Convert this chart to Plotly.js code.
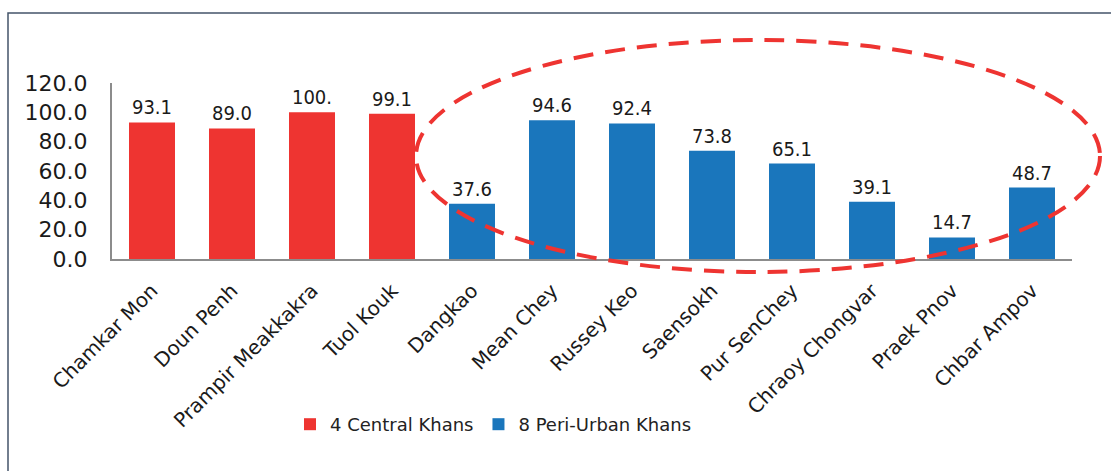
<!DOCTYPE html>
<html>
<head>
<meta charset="utf-8">
<script src="https://cdn.plot.ly/plotly-3.0.1.min.js"></script>
<style>
  html, body { margin: 0; padding: 0; background: #ffffff; }
  #chart { width: 1111px; height: 471px; }
</style>
</head>
<body>
<div id="chart"></div>
<script>
// Khan names and values
const centralKhans = ["Chamkar Mon", "Doun Penh", "Prampir Meakkakra", "Tuol Kouk"];
const centralValues = [93.1, 89.0, 100.0, 99.1];

const periUrbanKhans = ["Dangkao", "Mean Chey", "Russey Keo", "Saensokh", "Pur SenChey",
  "Chraoy Chongvar", "Praek Pnov", "Chbar Ampov"];
const periUrbanValues = [37.6, 94.6, 92.4, 73.8, 65.1, 39.1, 14.7, 48.7];

const yTicks = [0, 20, 40, 60, 80, 100, 120];

// the source chart cuts its data labels at four characters ("100.")
function shortLabel(v) {
  return v.toFixed(1).slice(0, 4);
}

// pixel frame of the plot area, used to place the ring and border
const W = 1111, H = 471;
const margin = { l: 112, r: 39, t: 83, b: 212 };
const plotW = W - margin.l - margin.r;
const plotH = H - margin.t - margin.b;
const px = (x) => (x - margin.l) / plotW;
const py = (y) => (H - margin.b - y) / plotH;

const labelFont = {
  family: "DejaVu Sans Condensed, Liberation Sans Narrow, Liberation Sans, sans-serif",
  size: 20,
  color: "#1a1a1a",
};

const trace1 = {
  x: centralKhans,
  y: centralValues,
  name: "4 Central Khans",
  type: "bar",
  text: centralValues.map(shortLabel),
  textposition: "outside",
  textfont: labelFont,
  constraintext: "none",
  cliponaxis: false,
  marker: { color: "#ee3431" },
  hoverinfo: "x+y",
};

const trace2 = {
  x: periUrbanKhans,
  y: periUrbanValues,
  name: "8 Peri-Urban Khans",
  type: "bar",
  text: periUrbanValues.map(shortLabel),
  textposition: "outside",
  textfont: labelFont,
  constraintext: "none",
  cliponaxis: false,
  marker: { color: "#1a76bc" },
  hoverinfo: "x+y",
};

const layout = {
  width: W,
  height: H,
  margin: margin,
  paper_bgcolor: "#ffffff",
  plot_bgcolor: "#ffffff",
  barmode: "overlay",
  bargap: 0.425,
  showlegend: true,
  legend: {
    orientation: "h",
    x: px(290),
    y: py(406),
    xanchor: "left",
    yanchor: "top",
    font: { family: "DejaVu Sans, sans-serif", size: 18, color: "#222222" },
    itemclick: false,
  },
  xaxis: {
    type: "category",
    categoryorder: "array",
    categoryarray: centralKhans.concat(periUrbanKhans),
    tickangle: -45,
    tickfont: { family: "DejaVu Sans, sans-serif", size: 20, color: "#1a1a1a" },
    ticklabelstandoff: 10,
    showline: true,
    linecolor: "#8c8c8c",
    linewidth: 2,
    ticks: "",
    showgrid: false,
    zeroline: false,
    fixedrange: true,
  },
  yaxis: {
    range: [0, 120],
    tickvals: yTicks,
    tickformat: ".1f",
    tickfont: { family: "DejaVu Sans, sans-serif", size: 22, color: "#1a1a1a" },
    ticklabelstandoff: 18,
    showline: true,
    linecolor: "#8c8c8c",
    linewidth: 2,
    ticks: "",
    showgrid: false,
    zeroline: false,
    fixedrange: true,
  },
  shapes: [
    // frame round the chart (only top and left edges fall inside the picture)
    {
      type: "rect",
      xref: "paper", yref: "paper",
      x0: px(8), x1: px(1125),
      y0: py(480), y1: py(13),
      line: { color: "#44546a", width: 1.5 },
      fillcolor: "rgba(0,0,0,0)",
      layer: "above",
    },
    // dashed ring round the peri-urban khans
    {
      type: "circle",
      xref: "paper", yref: "paper",
      x0: px(416), x1: px(1100),
      y0: py(272), y1: py(40),
      line: { color: "#ee3431", width: 4, dash: "20px,12px" },
      fillcolor: "rgba(0,0,0,0)",
      layer: "above",
    },
  ],
};

Plotly.newPlot("chart", [trace1, trace2], layout, { displayModeBar: false, staticPlot: false });
</script>
</body>
</html>
